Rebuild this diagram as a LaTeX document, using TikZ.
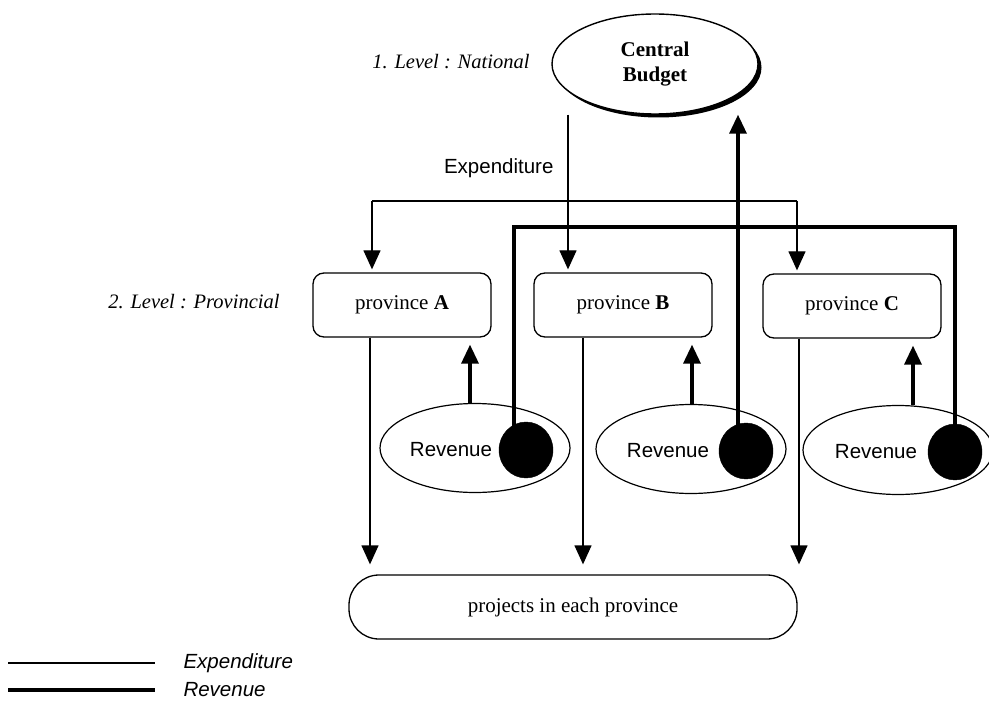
\documentclass[tikz,border=0pt]{standalone}
\usepackage{fontspec}
\setmainfont{Liberation Serif}
\setsansfont{Liberation Sans}
\usetikzlibrary{arrows.meta,shapes.geometric,shadows}

\tikzset{
  expline/.style={line width=1.3pt},
  revline/.style={line width=3.4pt},
  tip/.style={-{Triangle[length=19pt,width=17pt]}},
  budget/.style={draw,ellipse,fill=white,line width=1.4pt,minimum width=206pt,
    minimum height=100pt,inner sep=0pt,align=center,
    font=\fontsize{21}{25}\selectfont\bfseries,
    drop shadow={shadow xshift=3.5pt,shadow yshift=-3.5pt,opacity=1,fill=black}},
  provbox/.style={draw,line width=1.3pt,rounded corners=11pt,minimum width=178pt,
    minimum height=64pt,font=\fontsize{21}{24}\selectfont},
  projbox/.style={draw,line width=1.3pt,rounded corners=30pt,minimum width=448pt,
    minimum height=64pt,font=\fontsize{21}{24}\selectfont},
  revell/.style={draw,ellipse,line width=1.2pt,minimum width=190pt,minimum height=89pt},
  revdot/.style={draw,fill=black,ellipse,minimum width=54pt,minimum height=56pt,inner sep=0pt},
  revtxt/.style={font=\fontsize{20.5}{24}\selectfont\sffamily},
  lvl/.style={font=\fontsize{20.5}{24}\selectfont\itshape},
  legtxt/.style={font=\fontsize{20.5}{24}\selectfont\sffamily\itshape,anchor=west},
}

\begin{document}
\begin{tikzpicture}[x=1pt,y=-1pt]
\useasboundingbox (0,0) rectangle (989,706);

% Level 1: national
\node[budget] (cb) at (655,64) {Central\\Budget};
\node[lvl,anchor=east] (lvlN) at (533,62) {1. Level : National};

% Level 2: provincial
\node[lvl,anchor=east] (lvlP) at (283,302) {2. Level : Provincial};
\node[provbox] (pA) at (402,305) {province \textbf{A}};
\node[provbox] (pB) at (623,305) {province \textbf{B}};
\node[provbox] (pC) at (852,306) {province \textbf{C}};

% Revenue of each province
\node[revell] (rA) at (475,448) {};
\node[revell] (rB) at (691,449) {};
\node[revell] (rC) at (898,450) {};
\node[revtxt] (tA) at (451,450) {Revenue};
\node[revtxt] (tB) at (668,451) {Revenue};
\node[revtxt] (tC) at (876,452) {Revenue};
\node[revdot] (dA) at (526,450) {};
\node[revdot] (dB) at (746,451) {};
\node[revdot] (dC) at (955,452) {};

% Projects
\node[projbox] (proj) at (573,607) {projects in each province};

% column positions
\coordinate (xBin) at (568,0);
\coordinate (brL) at (372,201);
\coordinate (brR) at (797,201);
\coordinate (rbL) at (514,227);
\coordinate (rbR) at (955,227);
\coordinate (xBup) at (738,0);
\coordinate (upA) at (470,0);
\coordinate (upB) at (692,0);
\coordinate (upC) at (913,0);
\coordinate (outA) at (370,0);
\coordinate (outB) at (583,0);
\coordinate (outC) at (799,0);

% Expenditure
\draw[expline,tip,shorten >=3pt] (cb.south -| xBin) -- (pB.north -| xBin);
\node[revtxt,anchor=east] (expl) at (557,168) {Expenditure};
\draw[expline] (brL) -- (brR);
\draw[expline,tip,shorten >=3pt] (brL) -- (pA.north -| brL);
\draw[expline,tip,shorten >=3pt] (brR) -- (pC.north -| brR);
\draw[expline,tip,shorten >=10pt] (pA.south -| outA) -- (proj.north -| outA);
\draw[expline,tip,shorten >=10pt] (pB.south -| outB) -- (proj.north -| outB);
\draw[expline,tip,shorten >=10pt] (pC.south -| outC) -- (proj.north -| outC);

% Revenue
\draw[revline,tip,shorten >=7pt] (rA.north -| upA) -- (pA.south -| upA);
\draw[revline,tip,shorten >=7pt] (rB.north -| upB) -- (pB.south -| upB);
\draw[revline,tip,shorten >=7pt] (rC.north -| upC) -- (pC.south -| upC);
\draw[revline] (dA.center -| rbL) -- (rbL) -- (rbR) -- (dC.center -| rbR);
\draw[revline,tip] (dB.center -| xBup) -- (cb.south -| xBup);

% Legend
\coordinate (lgE) at (8,663);
\coordinate (lgR) at (8,690);
\draw[expline] (lgE) -- ++(147,0) coordinate (lgE2);
\draw[revline] (lgR) -- ++(147,0) coordinate (lgR2);
\node[legtxt] (lgEt) at (180,663) {Expenditure};
\node[legtxt] (lgRt) at (180,690) {Revenue};
\end{tikzpicture}
\end{document}
